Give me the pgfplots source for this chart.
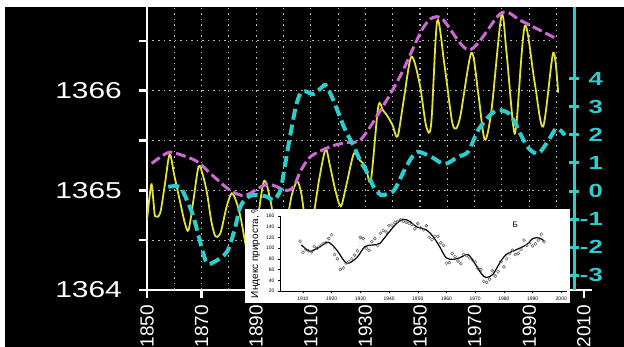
\documentclass[border=0pt]{standalone}
\usepackage{fontspec}
\setmainfont{Liberation Sans}
\usepackage{pgfplots}
\pgfplotsset{compat=1.18}
\definecolor{cyanc}{RGB}{45,205,205}
\definecolor{magc}{RGB}{205,105,210}
\definecolor{yelc}{RGB}{225,225,60}
\definecolor{gridc}{RGB}{185,185,185}
\definecolor{dotc}{RGB}{90,90,90}

\pgfplotstableread{
year val
1909 113
1910 92
1911 97
1912 95
1913 93
1914 103
1915 100
1916 104
1917 108
1918 110
1919 118
1920 125
1921 88
1922 80
1923 60
1924 63
1925 72
1926 75
1927 80
1928 87
1929 95
1930 120
1931 118
1932 100
1933 96
1934 112
1935 118
1936 105
1937 128
1938 133
1939 130
1940 142
1941 143
1942 148
1943 150
1944 153
1945 150
1946 148
1947 146
1948 144
1949 136
1950 146
1951 138
1952 134
1953 142
1954 120
1955 116
1956 122
1957 122
1958 110
1959 105
1960 72
1961 73
1962 90
1963 84
1964 76
1965 71
1966 88
1967 86
1968 82
1969 78
1970 74
1971 62
1972 60
1973 38
1974 36
1975 42
1976 58
1977 48
1978 56
1979 75
1980 65
1981 80
1982 90
1983 96
1984 88
1985 90
1986 98
1987 115
1988 105
1989 110
1990 104
1991 108
1992 115
1993 126
1994 112
}\insetdots

\begin{document}
\begin{tikzpicture}[x=1pt,y=1pt]
\fill[white] (0,0) rectangle (624,347);
\useasboundingbox (0,0) rectangle (624,347);
\fill[black] (5,0) rectangle (624,340);

% ---------------- main axis (left, W/m2) ----------------
\begin{axis}[
  at={(147pt,57pt)}, anchor=south west, scale only axis,
  width=445pt, height=283pt,
  xmin=1850, xmax=2013, ymin=1364, ymax=1366.84,
  axis x line*=bottom, axis y line*=left,
  axis line style={white, line width=2.5pt},
  tick style={white, line width=2.5pt},
  major tick length=8pt, tick align=outside,
  xtick={1850,1870,1890,1910,1930,1950,1970,1990,2010},
  xticklabels={1850,1870,1890,1910,1930,1950,1970,1990,2010},
  ytick={1364,1364.5,1365,1365.5,1366,1366.5},
  yticklabels={\scalebox{1.3}[1]{1364},,\scalebox{1.3}[1]{1365},,\scalebox{1.3}[1]{1366},},
  xticklabel style={rotate=90, anchor=east, inner sep=0pt, text=white, font=\fontsize{19}{19}\selectfont},
  yticklabel style={anchor=east, inner sep=0pt, text=white, font=\fontsize{23}{23}\selectfont},
  xticklabel shift=7pt, yticklabel shift=17pt,
  ylabel={Wm\textsuperscript{2}},
  ylabel style={text=white, font=\fontsize{24}{24}\selectfont},
  every axis y label/.style={at={(axis description cs:-0.285,0.583)}, rotate=90, anchor=center},
]
\pgfplotsinvokeforeach{1860,1870,1880,1890,1900,1910,1920,1930,1940,1950,1960,1970,1980,1990,2000}{
  \draw[gridc, line width=1.1pt, dash pattern=on 1.5pt off 4pt] (axis cs:#1,1364) -- (axis cs:#1,1366.84);
}
\pgfplotsinvokeforeach{1364.5,1365,1365.5,1366,1366.5}{
  \draw[gridc, line width=1.1pt, dash pattern=on 1.5pt off 4pt] (axis cs:1850,#1) -- (axis cs:1999,#1);
}
\addplot[yelc, line width=1.8pt, smooth, tension=0.5] coordinates {
(1850,1364.70) (1851,1364.95) (1851.7,1365.06) (1852.5,1364.85) (1853,1364.74)
(1854.8,1364.77) (1856.5,1365.05) (1858.3,1365.36) (1860,1365.15) (1862,1364.90)
(1863.8,1364.68) (1865.2,1364.60) (1867,1364.90) (1868.9,1365.24) (1870.5,1365.15)
(1872,1364.97) (1873.5,1364.70) (1875,1364.54) (1876.5,1364.55) (1877.4,1364.62)
(1879.3,1364.85) (1881.1,1364.97) (1882.8,1364.88) (1884.2,1364.74) (1885.5,1364.55)
(1886.6,1364.40) (1888,1364.35) (1890,1364.6) (1892.8,1365.09) (1895.2,1364.9)
(1897,1364.6) (1899,1364.45) (1901,1364.65) (1903,1364.95) (1905,1365.09)
(1906.5,1364.97) (1908,1364.7) (1910,1364.6) (1913,1365.1) (1915.4,1365.41)
(1917,1365.25) (1919,1365.0) (1921,1364.84) (1923,1365.05) (1925.8,1365.37)
(1928,1365.3) (1930.1,1365.24) (1932,1365.1) (1934.7,1365.84) (1936.5,1365.80)
(1938.2,1365.74) (1940,1365.65) (1941.8,1365.54) (1944,1365.9) (1946.8,1366.34)
(1949.8,1366.08) (1952.3,1365.64) (1954.1,1365.67) (1956.3,1366.70) (1959,1366.25)
(1962,1365.66) (1964.5,1365.71) (1968.8,1366.38) (1971.3,1365.98) (1973.7,1365.51)
(1976.2,1365.81) (1979.8,1366.75) (1981.6,1366.41) (1984.1,1365.66) (1985.3,1365.66)
(1988.4,1366.65) (1992,1366.08) (1995.1,1365.64) (1998.8,1366.38) (2000.6,1365.98)
};
\addplot[magc, line width=3pt, smooth, dash pattern=on 10pt off 4pt] coordinates {
(1851.7,1365.27) (1857.8,1365.38) (1862,1365.36) (1868.3,1365.29) (1874,1365.15)
(1880.5,1365.0) (1886,1364.95) (1894,1365.06) (1901,1365.0) (1903.8,1365.04)
(1906.2,1365.19) (1910,1365.34) (1917.3,1365.44) (1923,1365.48) (1928.3,1365.51)
(1935.7,1365.81) (1943,1366.16) (1951.6,1366.65) (1957.7,1366.73) (1968.1,1366.41)
(1979.8,1366.78) (1987.1,1366.70) (1999.4,1366.53)
};
\end{axis}

% ---------------- right axis (cyan) ----------------
\begin{axis}[
  at={(147pt,57pt)}, anchor=south west, scale only axis,
  width=427pt, height=283pt,
  xmin=1850, xmax=2006.4, ymin=-3.52, ymax=6.55,
  axis x line=none, axis y line*=right,
  axis line style={cyanc, line width=3pt},
  tick style={cyanc, line width=3pt},
  major tick length=10pt, tick align=center,
  ytick={-3,-2,-1,0,1,2,3,4},
  yticklabels={\scalebox{1.35}[1]{-3},\scalebox{1.35}[1]{-2},\scalebox{1.35}[1]{-1},\scalebox{1.35}[1]{0},\scalebox{1.35}[1]{1},\scalebox{1.35}[1]{2},\scalebox{1.35}[1]{3},\scalebox{1.35}[1]{4}},
  yticklabel style={anchor=east, inner sep=0pt, text=cyanc, font=\fontsize{19}{19}\selectfont\bfseries, xshift=24pt},
]
\addplot[cyanc, line width=4pt, smooth, dash pattern=on 11pt off 5pt] coordinates {
(1857.8,0.15) (1862,0.15) (1864.5,-0.3) (1867,-0.91) (1870,-2.0) (1872,-2.57)
(1875,-2.5) (1879.3,-2.16) (1882,-1.4) (1884.2,-0.56) (1886.5,-0.25) (1889,-0.14)
(1894,-0.2) (1896.4,-0.32) (1898.9,0.04) (1900.5,0.9) (1902.6,2.05) (1904.5,3.0)
(1906.2,3.48) (1908,3.55) (1911,3.45) (1913.6,3.65) (1915.4,3.77) (1917.5,3.4)
(1919.7,2.88) (1922.5,2.2) (1925.8,1.58) (1928,1.1) (1930.8,0.63) (1933,0.15)
(1935.7,-0.14) (1938,-0.1) (1940.6,0.04) (1944.3,0.75) (1947,1.2) (1949.2,1.40)
(1954.1,1.22) (1959,0.96) (1963.9,1.22) (1967.6,1.40) (1971.3,2.17) (1975.6,2.70)
(1978.7,2.88) (1982.4,2.77) (1985,2.4) (1987.3,1.93) (1990,1.5) (1993.4,1.34)
(1997.1,1.81) (2000,2.23) (2003.1,1.99)
};
\end{axis}

% ---------------- inset ----------------
\fill[white] (245,44) rectangle (570,138);
\begin{axis}[
  at={(280pt,56pt)}, anchor=south west, scale only axis,
  width=287pt, height=75pt,
  xmin=1902, xmax=2002, ymin=20, ymax=160,
  axis x line*=bottom, axis y line*=left,
  axis line style={black, line width=0.5pt},
  tick style={black, line width=0.4pt},
  major tick length=2pt, tick align=outside,
  xtick={1910,1920,1930,1940,1950,1960,1970,1980,1990,2000},
  xticklabels={1910,1920,1930,1940,1950,1960,1970,1980,1990,2000},
  ytick={20,40,60,80,100,120,140,160},
  yticklabels={20,40,60,80,100,120,140,160},
  ticklabel style={font=\fontsize{5}{5}\selectfont, text=black},
  ylabel={Индекс прироста, \%},
  ylabel style={font=\fontsize{4.2}{4.2}\selectfont},
  every axis y label/.style={at={(axis description cs:-0.085,0.53)}, rotate=90, anchor=center},
]
\addplot[dotc, line width=0.4pt, dotted, mark=o, mark size=1.5pt, mark options={solid, dotc, line width=0.45pt}] table[x=year, y=val] {\insetdots};
\addplot[black, line width=1.2pt, smooth] coordinates {
(1909.5,106) (1912.4,94) (1916,103) (1918.8,111) (1921.7,97) (1925.2,72) (1928.7,82)
(1931.6,103) (1934.5,106) (1936.8,109) (1939.7,128) (1942.6,146) (1944.9,154)
(1947.2,150) (1949.5,140) (1953,134) (1955.3,122) (1957.6,103) (1959.9,82)
(1962.3,79) (1964.6,82) (1967.5,88) (1969.8,72) (1972.1,53) (1973.8,45)
(1976.2,51) (1978.5,72) (1980.8,88) (1984.3,97) (1987.8,106) (1990.1,118)
(1992.4,119) (1994.1,113)
};
\node[font=\fontsize{8}{8}\selectfont] at (axis cs:1984,143) {Б};
\end{axis}
\end{tikzpicture}
\end{document}
